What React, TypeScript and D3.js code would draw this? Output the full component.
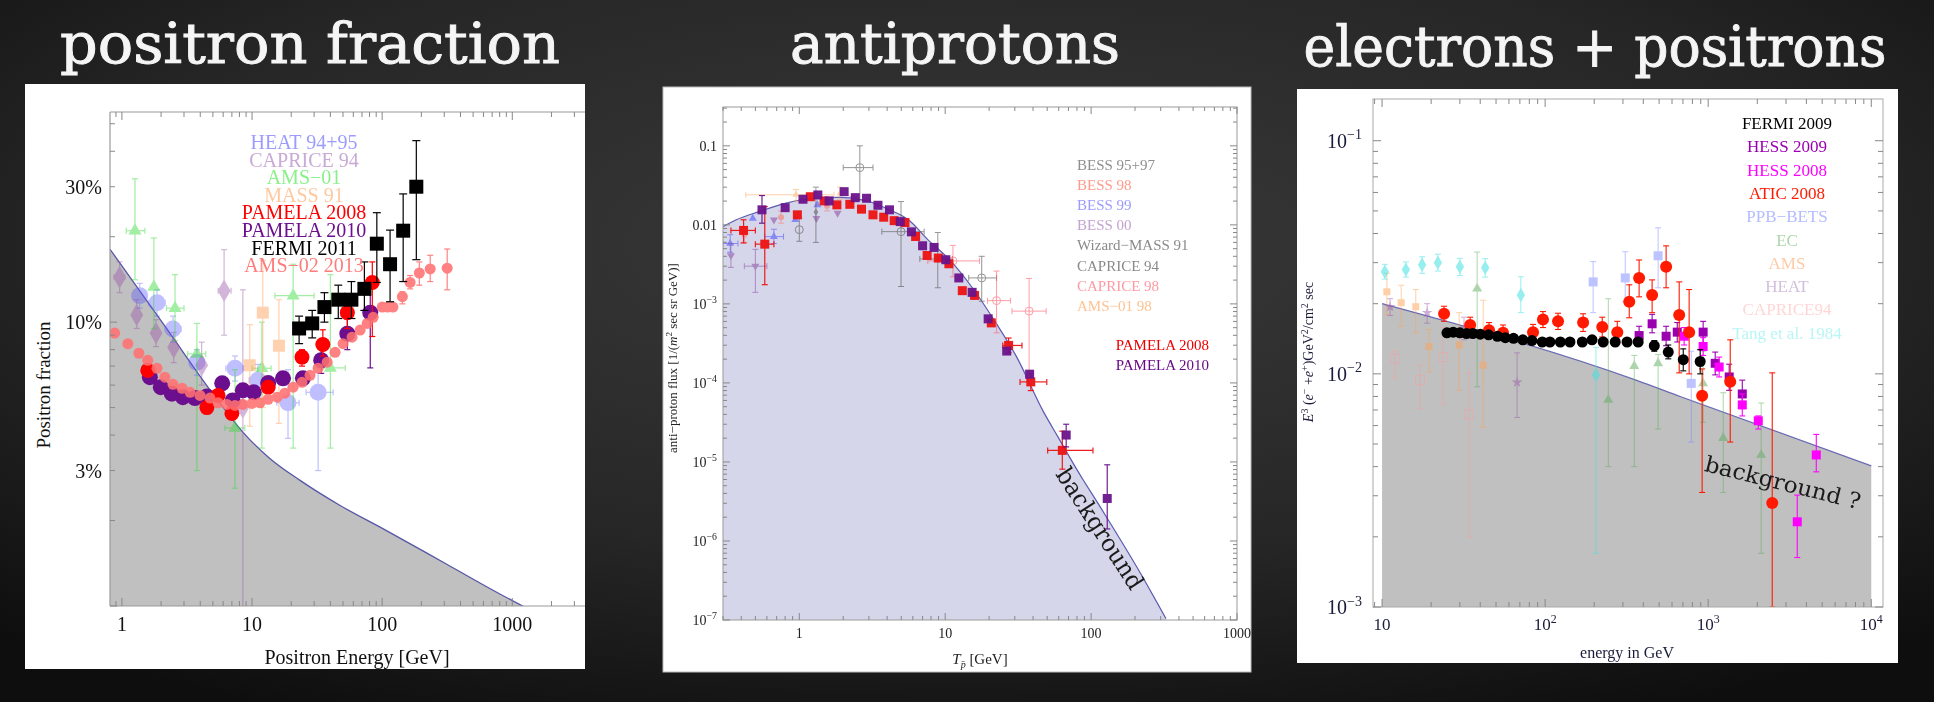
import React from "react";
import * as d3 from "d3";

const W = 1934;
const H = 702;
const SERIF = "'Liberation Serif', 'Times New Roman', serif";
const SLAB = "'DejaVu Serif', serif";

// ---------- positron fraction ----------
// rows: [E, value, lo, hi, Elo, Ehi]
const pfBackground = [[0.808, 0.181], [2.14, 0.0968], [5.67, 0.0518], [8.53, 0.0409], [13.7, 0.0331], [23.4, 0.0277], [47.5, 0.0226], [102, 0.0187], [316, 0.014], [809, 0.011], [1303, 0.0098]];
const pfHeat = [[1.37, 0.124, 0.112, 0.137, 1.2, 1.55], [1.86, 0.117, 0.105, 0.13, 1.6, 2.15], [2.47, 0.0946, 0.085, 0.105, 2.15, 2.85], [3.77, 0.0723, 0.065, 0.08, 3.3, 4.3], [7.4, 0.0688, 0.062, 0.076, 6.3, 8.6], [11.1, 0.0624, 0.055, 0.071, 9.5, 13], [18.9, 0.052, 0.039, 0.068, 15.5, 23], [32.2, 0.0566, 0.03, 0.075, 26, 42]];
const pfCaprice = [[0.96, 0.144, 0.127, 0.163, 0.87, 1.05], [1.3, 0.106, 0.095, 0.12], [1.83, 0.0915, 0.082, 0.102], [2.5, 0.0816, 0.072, 0.092], [4.1, 0.0705, 0.06, 0.085], [6.1, 0.129, 0.09, 0.18, 5.5, 6.9], [8.5, 0.05, 0.0095, 0.13]];
const pfAms01 = [[1.26, 0.21, 0.141, 0.32, 1.08, 1.5], [1.76, 0.133, 0.095, 0.198], [2.56, 0.112, 0.086, 0.147, 2.2, 3.0], [3.77, 0.0773, 0.03, 0.099, 3.2, 4.4], [7.4, 0.0424, 0.026, 0.068, 6.2, 8.8], [11.9, 0.0688, 0.036, 0.1, 10, 14], [20.7, 0.124, 0.036, 0.16, 15, 30], [40, 0.069, 0.036, 0.147, 30, 52]];
const pfMass = [[9.6, 0.0705, 0.043, 0.098], [12.1, 0.108, 0.05, 0.165], [16.1, 0.0826, 0.044, 0.12]];
const pfPamela08 = [[1.58, 0.0676], [4.5, 0.05], [5.48, 0.0552], [7.0, 0.0477], [13.3, 0.059], [24.2, 0.0753, 0.07, 0.08], [35, 0.0834, 0.076, 0.094], [54, 0.108, 0.095, 0.123], [84, 0.138, 0.089, 0.163]];
const pfPamela10 = [[1.64, 0.064], [1.99, 0.059], [2.42, 0.056], [2.94, 0.0544], [3.64, 0.054], [4.5, 0.0547], [5.9, 0.0609], [7.1, 0.053], [8.5, 0.0575], [10.3, 0.0566], [13.3, 0.061], [17.3, 0.0634], [24.6, 0.0634], [34, 0.0734, 0.066, 0.081], [54, 0.091, 0.08, 0.103], [81, 0.108, 0.069, 0.14]];
const pfAms02 = [[0.88, 0.0915], [1.11, 0.084], [1.35, 0.0777], [1.58, 0.0734], [1.86, 0.0688], [2.14, 0.064], [2.47, 0.0604], [2.9, 0.0585], [3.34, 0.0566], [3.98, 0.0552], [4.75, 0.054], [5.48, 0.052], [6.42, 0.0513], [7.4, 0.0509], [8.5, 0.0513], [10, 0.0517], [11.5, 0.052], [13.3, 0.0535], [15.6, 0.0544], [17.9, 0.0562], [20.7, 0.059], [24.2, 0.0614], [27.9, 0.065], [32.2, 0.0688], [37.8, 0.0723], [43.5, 0.0783], [50.1, 0.084], [58.7, 0.0885], [67.7, 0.0938], [76.7, 0.099], [85.3, 0.104], [100, 0.113], [110, 0.113], [121, 0.113], [143, 0.123, 0.116, 0.128], [164, 0.138, 0.131, 0.146], [193, 0.149, 0.135, 0.163], [234, 0.154, 0.139, 0.172], [316, 0.155, 0.13, 0.181]];
const pfFermi = [[23, 0.095, 0.084, 0.105], [29, 0.099, 0.088, 0.11], [36, 0.113, 0.1, 0.127], [46, 0.12, 0.103, 0.135], [58, 0.12, 0.103, 0.139], [73, 0.131, 0.11, 0.163], [91, 0.189, 0.138, 0.243], [115, 0.16, 0.118, 0.211], [145, 0.21, 0.139, 0.283], [183, 0.3, 0.166, 0.436]];
const pfLegend = ["HEAT 94+95", "CAPRICE 94", "AMS\u221201", "MASS 91", "PAMELA 2008", "PAMELA 2010", "FERMI 2011", "AMS\u221202 2013"];
const pfLegendColors = ["#9c9cff", "#c9a9d6", "#8af08a", "#ffc89e", "#ff0000", "#6b0f8f", "#000000", "#ff7c7c"];
const pfYTicks = [0.03, 0.1, 0.3];
const pfYLabels = ["3%", "10%", "30%"];
const pfXTicks = [1, 10, 100, 1000];

// ---------- antiprotons ----------
const apBackground = [[0.3, 0.0095], [0.37, 0.0116], [0.53, 0.0147], [0.81, 0.0188], [1.24, 0.0217], [1.89, 0.0223], [2.89, 0.0202], [4.15, 0.0155], [5.6, 0.0116], [7.6, 0.0065], [10.9, 0.0035], [15.7, 0.00151], [22.6, 5.5e-4], [30.6, 2.2e-4], [46.9, 4.4e-5], [59.7, 2.03e-5], [80.9, 7.7e-6], [116, 2.66e-6], [213, 4.2e-7], [326, 1.04e-7]];
const apBess9597 = [[1.0, 0.0087, 0.0062, 0.0122], [2.6, 0.053, 0.0206, 0.1, 2.0, 3.2], [4.98, 0.0082, 0.00166, 0.0197, 3.68, 7.17], [17.8, 0.00213, 0.00108, 0.004, 14.5, 22.5]];
const apBess98 = [[0.42, 0.0075, 0.006, 0.0095], [0.75, 0.0125, 0.0105, 0.015], [1.55, 0.0175, 0.015, 0.021], [2.3, 0.0195, 0.017, 0.023]];
const apBess99 = [[0.336, 0.0058, 0.0045, 0.0075, 0.3, 0.38], [0.48, 0.0121], [0.67, 0.0071, 0.0058, 0.0088, 0.58, 0.78], [0.94, 0.0116], [1.33, 0.0179]];
const apBess00 = [[0.34, 0.0041, 0.0029, 0.0058], [0.5, 0.003, 0.0014, 0.0049, 0.42, 0.6], [0.67, 0.0116], [1.31, 0.0121], [1.83, 0.0141]];
const apWizard = [[8.9, 0.0037, 0.0016, 0.008, 6.7, 11.2]];
const apCaprice94 = [[1.3, 0.0145, 0.006, 0.03]];
const apCaprice98 = [[11.3, 0.0035, 0.0022, 0.0055, 7.6, 17.2], [22.5, 0.0011, 4.3e-4, 0.0026, 19.5, 28], [37.6, 8.1e-4, 1.4e-4, 0.0021, 28.7, 49.2]];
const apAms0198 = [[0.95, 0.024, 0.02, 0.028, 0.43, 1.73], [1.9, 0.025, 0.021, 0.03]];
const apPamela08 = [[0.415, 0.0085, 0.0059, 0.0116, 0.34, 0.5], [0.58, 0.0057, 0.00175, 0.017, 0.5, 0.67], [0.97, 0.0134], [1.19, 0.0227], [1.48, 0.0201], [1.81, 0.0179], [2.22, 0.0182], [2.67, 0.0158], [3.2, 0.0134], [3.79, 0.0125], [4.47, 0.0113], [5.3, 0.0107], [6.27, 0.00713], [7.52, 0.0041], [8.97, 0.0038], [10.6, 0.00322], [13.1, 0.00147], [15.9, 0.00128], [20.7, 5.75e-4], [27.2, 2.98e-4, 2.4e-4, 3.7e-4, 24.8, 33.6], [38.6, 1.03e-4, 8.0e-5, 1.3e-4, 32.6, 49.7], [63.5, 1.4e-5, 8.1e-6, 2.45e-5, 50.4, 103]];
const apPamela10 = [[0.555, 0.0155, 0.0105, 0.0235], [0.8, 0.0165], [1.06, 0.0211], [1.34, 0.0239], [1.6, 0.0201], [2.03, 0.0263], [2.42, 0.0221], [2.89, 0.0217], [3.46, 0.0177], [4.15, 0.0155], [4.92, 0.011], [5.87, 0.00816], [7.0, 0.00544], [8.39, 0.00518], [10.1, 0.00362], [12.4, 0.00213], [15.3, 0.0014], [19.7, 6.47e-4], [26.4, 2.53e-4], [37.9, 1.29e-4], [67.5, 2.19e-5, 1.55e-5, 3.0e-5], [129, 3.45e-6, 1.42e-6, 9.2e-6]];
const apLegend = ["BESS 95+97", "BESS 98", "BESS 99", "BESS 00", "Wizard\u2212MASS 91", "CAPRICE 94", "CAPRICE 98", "AMS\u221201 98"];
const apLegendColors = ["#8e8e8e", "#ff9a8c", "#9a9aff", "#c3a3cf", "#8a8a8a", "#8a8a8a", "#ff9aa2", "#ffc291"];
const apYTicks = [0.1, 0.01, 1e-3, 1e-4, 1e-5, 1e-6, 1e-7];
const apXTicks = [1, 10, 100, 1000];

// ---------- electrons + positrons ----------
const epBackground = [[10, 0.02], [361, 0.0094], [673, 0.008], [10000, 0.00403]];
const epFermi = [[25, 0.015], [27.3, 0.0151], [30, 0.015], [33, 0.0149], [36, 0.0149], [40, 0.0148], [45, 0.0147], [51, 0.0145], [57, 0.0143], [64, 0.0142], [73, 0.014], [83, 0.0139], [96, 0.0137], [107, 0.0137], [124, 0.0137], [142, 0.0137], [169, 0.0137], [194, 0.014], [227, 0.0137], [269, 0.0137], [318, 0.0137], [372, 0.0137], [467, 0.0132, 0.0125, 0.0139], [569, 0.0124, 0.0116, 0.0133], [703, 0.0115, 0.0103, 0.0128], [893, 0.0113, 0.01, 0.0127]];
const epHess09 = [[377, 0.0146, 0.0133, 0.016], [453, 0.0164, 0.015, 0.018], [552, 0.0145, 0.0132, 0.016], [646, 0.0151, 0.0137, 0.0166], [931, 0.0151, 0.0135, 0.0168], [1104, 0.0111, 0.0099, 0.0124], [1345, 0.0097, 0.0085, 0.011], [1618, 0.0082, 0.0071, 0.0094]];
const epHess08 = [[712, 0.0145, 0.0133, 0.0158], [931, 0.0131, 0.012, 0.0143], [1167, 0.0107, 0.0097, 0.0118], [1618, 0.00736, 0.0066, 0.0082], [2028, 0.00629, 0.0058, 0.0066], [3516, 0.00232, 0.00163, 0.00302], [4600, 0.00449, 0.0038, 0.0055]];
const epAtic = [[24, 0.0181, 0.0168, 0.0195], [34.7, 0.0162, 0.015, 0.0175], [45.3, 0.0154, 0.0143, 0.0166], [55.2, 0.015, 0.0139, 0.0162], [84.3, 0.0151, 0.014, 0.0163], [97, 0.0171, 0.0158, 0.0185], [120, 0.0168, 0.0155, 0.0182], [171, 0.0166, 0.0152, 0.0181], [224, 0.0159, 0.0144, 0.0175], [277, 0.0151, 0.0136, 0.0168], [328, 0.0204, 0.0174, 0.0241], [377, 0.0258, 0.0214, 0.0308], [453, 0.0218, 0.0183, 0.0253], [552, 0.0288, 0.0234, 0.0354], [664, 0.0179, 0.0101, 0.0248], [764, 0.0151, 0.01, 0.023], [918, 0.00805, 0.0031, 0.0105], [1365, 0.00925, 0.0051, 0.014], [2470, 0.00279, 0.001, 0.0101]];
const epPpb = [[197, 0.0248, 0.0183, 0.0303], [310, 0.0258, 0.0204, 0.0334], [493, 0.0321, 0.0234, 0.0423], [787, 0.0091, 0.0051, 0.0125]];
const epEc = [[38.3, 0.0232, 0.0088, 0.0333], [244, 0.00773, 0.004, 0.021], [352, 0.0108, 0.004, 0.012], [493, 0.0111, 0.0058, 0.0121], [931, 0.0091, 0.0062, 0.0125], [1236, 0.0053, 0.0031, 0.0083], [2113, 0.00449, 0.0017, 0.0075]];
const epAms = [[10.7, 0.0225, 0.018, 0.027], [13.1, 0.0202, 0.016, 0.024], [16.1, 0.0194, 0.015, 0.023], [19.4, 0.0131, 0.0102, 0.0155], [29.7, 0.0133, 0.0085, 0.0183], [41.7, 0.0109, 0.0059, 0.0207]];
const epHeat = [[11.2, 0.0194, 0.0178, 0.021], [18.9, 0.0183, 0.0165, 0.02], [31.8, 0.0157, 0.014, 0.0175], [67.3, 0.0092, 0.0065, 0.0123]];
const epCaprice = [[12, 0.0116, 0.0096, 0.0125], [17.1, 0.0094, 0.0071, 0.0109], [23.7, 0.0118, 0.0074, 0.0158], [34.2, 0.0067, 0.002, 0.0101]];
const epTang = [[10.4, 0.0274, 0.0255, 0.0295], [14, 0.028, 0.026, 0.0302], [17.6, 0.0294, 0.027, 0.0318], [22, 0.03, 0.0276, 0.0326], [30, 0.0288, 0.0264, 0.0313], [42.9, 0.0285, 0.026, 0.0312], [71, 0.0218, 0.0183, 0.0261], [205, 0.0099, 0.0017, 0.013]];
const epLegend = ["FERMI 2009", "HESS 2009", "HESS 2008", "ATIC 2008", "PPB\u2212BETS", "EC", "AMS", "HEAT", "CAPRICE94", "Tang et al. 1984"];
const epLegendColors = ["#000000", "#9a00b0", "#ff00ff", "#ff1a00", "#b4bcff", "#acd6ac", "#ffcba6", "#d2bedc", "#ffd6d6", "#b8f6f6"];
const epYTicks = [0.1, 0.01, 0.001];
const epXTicks = [10, 100, 1000, 10000];

type Pt = number[];
type Style = { color: string; shape: string; size: number; opacity?: number; open?: boolean; cap?: number; lw?: number };

const SYMBOLS: Record<string, any> = {
  circle: d3.symbolCircle, square: d3.symbolSquare, triangle: d3.symbolTriangle,
  itriangle: d3.symbolTriangle, diamond: d3.symbolDiamond, star: d3.symbolStar,
};
const AREA: Record<string, number> = { circle: Math.PI / 4, square: 1, triangle: 0.433, itriangle: 0.433, diamond: 0.5, star: 0.3 };

function Marks({ data, st, x, y }: { data: Pt[]; st: Style; x: any; y: any }) {
  const sym = d3.symbol(SYMBOLS[st.shape], st.size * st.size * AREA[st.shape])() as string;
  const cap = st.cap ?? 3;
  return (
    <g opacity={st.opacity ?? 1} stroke={st.color} strokeWidth={st.lw ?? 1.2}>
      {data.map((p, i) => {
        const cx = x(p[0]);
        const cy = y(p[1]);
        return (
          <g key={i}>
            {p.length >= 4 && (
              <g>
                <line x1={cx} x2={cx} y1={y(p[2])} y2={y(p[3])} />
                <line x1={cx - cap} x2={cx + cap} y1={y(p[2])} y2={y(p[2])} />
                <line x1={cx - cap} x2={cx + cap} y1={y(p[3])} y2={y(p[3])} />
              </g>
            )}
            {p.length >= 6 && (
              <g>
                <line x1={x(p[4])} x2={x(p[5])} y1={cy} y2={cy} />
                <line x1={x(p[4])} x2={x(p[4])} y1={cy - cap} y2={cy + cap} />
                <line x1={x(p[5])} x2={x(p[5])} y1={cy - cap} y2={cy + cap} />
              </g>
            )}
            <path
              d={sym}
              transform={`translate(${cx},${cy})${st.shape === "itriangle" ? " rotate(180)" : ""}`}
              fill={st.open ? "none" : st.color}
              stroke={st.open ? st.color : "none"}
            />
          </g>
        );
      })}
    </g>
  );
}

// Mathematica style inward log ticks
function LogTicks({ scale, side, at, major, minor, color }: { scale: any; side: string; at: number; major: number; minor: number; color: string }) {
  const dom = scale.domain();
  const lo = Math.min(dom[0], dom[1]);
  const hi = Math.max(dom[0], dom[1]);
  const ticks: [number, boolean][] = [];
  for (let k = Math.floor(Math.log10(lo)); k <= Math.ceil(Math.log10(hi)); k++) {
    for (let m = 1; m < 10; m++) {
      const v = m * Math.pow(10, k);
      if (v >= lo * 0.999 && v <= hi * 1.001) ticks.push([v, m === 1]);
    }
  }
  const dir = side === "bottom" || side === "right" ? -1 : 1;
  const horiz = side === "bottom" || side === "top";
  return (
    <g stroke={color} strokeWidth={1}>
      {ticks.map(([v, isMajor], i) => {
        const p = scale(v);
        const len = (isMajor ? major : minor) * dir;
        return horiz ? (
          <line key={i} x1={p} x2={p} y1={at} y2={at + len} />
        ) : (
          <line key={i} x1={at} x2={at + len} y1={p} y2={p} />
        );
      })}
    </g>
  );
}

function Pow({ x, y, base, exp, size, anchor }: { x: number; y: number; base: string; exp: string; size: number; anchor: string }) {
  return (
    <text x={x} y={y} fontSize={size} textAnchor={anchor}>
      {base}
      <tspan dy={-size * 0.42} fontSize={size * 0.7}>{exp}</tspan>
    </text>
  );
}

function PositronFraction() {
  const box = { x0: 25, y0: 84, x1: 585, y1: 669 };
  const fr = { l: 110, t: 112, b: 606, r: 585 };
  const x = d3.scaleLog().domain([0.81, 3620]).range([fr.l, fr.r]);
  const y = d3.scaleLog().domain([0.01, 0.55]).range([fr.b, fr.t]);
  const area = d3.area<number[]>().x((d) => x(d[0])).y0(fr.b).y1((d) => y(d[1])).curve(d3.curveMonotoneX);
  const line = d3.line<number[]>().x((d) => x(d[0])).y((d) => y(d[1])).curve(d3.curveMonotoneX);
  return (
    <g>
      <rect x={box.x0} y={box.y0} width={box.x1 - box.x0} height={box.y1 - box.y0} fill="#fff" />
      <defs>
        <clipPath id="clipPF"><rect x={fr.l} y={fr.t} width={fr.r - fr.l} height={fr.b - fr.t} /></clipPath>
      </defs>
      <g clipPath="url(#clipPF)">
        <path d={area(pfBackground) as string} fill="#c0c0c0" />
        <path d={line(pfBackground) as string} fill="none" stroke="#5656a8" strokeWidth={1.3} />
        <Marks data={pfHeat} st={{ color: "#5a5aff", shape: "circle", size: 17, opacity: 0.38 }} x={x} y={y} />
        <Marks data={pfCaprice} st={{ color: "#9a5aaa", shape: "diamond", size: 17, opacity: 0.45 }} x={x} y={y} />
        <Marks data={pfAms01} st={{ color: "#2fd82f", shape: "triangle", size: 13, opacity: 0.45 }} x={x} y={y} />
        <Marks data={pfMass} st={{ color: "#ffa460", shape: "square", size: 12, opacity: 0.5 }} x={x} y={y} />
        <Marks data={pfPamela10} st={{ color: "#6b0f8f", shape: "circle", size: 16 }} x={x} y={y} />
        <Marks data={pfPamela08} st={{ color: "#ff0000", shape: "circle", size: 15 }} x={x} y={y} />
        <Marks data={pfAms02} st={{ color: "#ff7070", shape: "circle", size: 11, opacity: 0.88 }} x={x} y={y} />
        <Marks data={pfFermi} st={{ color: "#000000", shape: "square", size: 14, cap: 4 }} x={x} y={y} />
      </g>
      <g stroke="#9a9a9a" strokeWidth={1.2}>
        <line x1={fr.l} x2={fr.r} y1={fr.t} y2={fr.t} />
        <line x1={fr.l} x2={fr.r} y1={fr.b} y2={fr.b} />
        <line x1={fr.l} x2={fr.l} y1={fr.t} y2={fr.b} />
      </g>
      <LogTicks scale={x} side="bottom" at={fr.b} major={8} minor={5} color="#888" />
      <LogTicks scale={x} side="top" at={fr.t} major={8} minor={5} color="#888" />
      <LogTicks scale={y} side="left" at={fr.l} major={7} minor={5} color="#888" />
      <g fontFamily={SERIF} fill="#111">
        {pfYTicks.map((t, i) => (
          <text key={i} x={102} y={y(t) + 7} fontSize={20} textAnchor="end">{pfYLabels[i]}</text>
        ))}
        {pfXTicks.map((t) => (
          <text key={t} x={x(t)} y={631} fontSize={20} textAnchor="middle">{t}</text>
        ))}
        <text x={357} y={664} fontSize={20} textAnchor="middle">Positron Energy [GeV]</text>
        <text transform="translate(50,385) rotate(-90)" fontSize={19} textAnchor="middle">Positron fraction</text>
        {pfLegend.map((s, i) => (
          <text key={s} x={304} y={149 + i * 17.6} fontSize={20} textAnchor="middle" fill={pfLegendColors[i]}>{s}</text>
        ))}
      </g>
    </g>
  );
}

function Antiprotons() {
  const box = { x0: 663, y0: 87, x1: 1251, y1: 672 };
  const fr = { l: 723, t: 107, b: 620, r: 1237 };
  const x = d3.scaleLog().domain([0.3, 1000]).range([fr.l, fr.r]);
  const y = d3.scaleLog().domain([1e-7, 0.31]).range([fr.b, fr.t]);
  const area = d3.area<number[]>().x((d) => x(d[0])).y0(fr.b).y1((d) => y(d[1])).curve(d3.curveMonotoneX);
  const line = d3.line<number[]>().x((d) => x(d[0])).y((d) => y(d[1])).curve(d3.curveMonotoneX);
  return (
    <g>
      <rect x={box.x0} y={box.y0} width={box.x1 - box.x0} height={box.y1 - box.y0} fill="#fff" stroke="#bbb" />
      <defs>
        <clipPath id="clipAP"><rect x={fr.l} y={fr.t} width={fr.r - fr.l} height={fr.b - fr.t} /></clipPath>
      </defs>
      <g clipPath="url(#clipAP)">
        <path d={area(apBackground) as string} fill="#d5d6ea" />
        <path d={line(apBackground) as string} fill="none" stroke="#5a5ab0" strokeWidth={1.2} />
        <Marks data={apAms0198} st={{ color: "#ffa050", shape: "triangle", size: 7, opacity: 0.5, lw: 1 }} x={x} y={y} />
        <Marks data={apBess98} st={{ color: "#ff6a5a", shape: "circle", size: 6, opacity: 0.5, lw: 1 }} x={x} y={y} />
        <Marks data={apBess99} st={{ color: "#4a4aff", shape: "triangle", size: 8, opacity: 0.55, lw: 1 }} x={x} y={y} />
        <Marks data={apBess00} st={{ color: "#8a4aa0", shape: "itriangle", size: 8, opacity: 0.55, lw: 1 }} x={x} y={y} />
        <Marks data={apBess9597} st={{ color: "#666", shape: "circle", size: 8, opacity: 0.7, open: true, lw: 1 }} x={x} y={y} />
        <Marks data={apWizard} st={{ color: "#555", shape: "square", size: 5, opacity: 0.6, lw: 1 }} x={x} y={y} />
        <Marks data={apCaprice94} st={{ color: "#555", shape: "diamond", size: 6, opacity: 0.6, lw: 1 }} x={x} y={y} />
        <Marks data={apCaprice98} st={{ color: "#ff5a6a", shape: "circle", size: 8, opacity: 0.6, open: true, lw: 1 }} x={x} y={y} />
        <Marks data={apPamela08} st={{ color: "#ee1111", shape: "square", size: 9, opacity: 0.95 }} x={x} y={y} />
        <Marks data={apPamela10} st={{ color: "#6a148c", shape: "square", size: 9, opacity: 0.95 }} x={x} y={y} />
        <text transform="translate(1093,533) rotate(57)" fontFamily={SLAB} fontSize={24} textAnchor="middle" fill="#1a1a1a" textLength={140} lengthAdjust="spacingAndGlyphs">background</text>
      </g>
      <rect x={fr.l} y={fr.t} width={fr.r - fr.l} height={fr.b - fr.t} fill="none" stroke="#9a9a9a" />
      <LogTicks scale={x} side="bottom" at={fr.b} major={7} minor={4} color="#888" />
      <LogTicks scale={x} side="top" at={fr.t} major={7} minor={4} color="#888" />
      <LogTicks scale={y} side="left" at={fr.l} major={7} minor={4} color="#888" />
      <LogTicks scale={y} side="right" at={fr.r} major={7} minor={4} color="#888" />
      <g fontFamily={SERIF} fill="#222">
        {apYTicks.map((t) =>
          t >= 0.01 ? (
            <text key={t} x={717} y={y(t) + 5} fontSize={14} textAnchor="end">{t}</text>
          ) : (
            <Pow key={t} x={717} y={y(t) + 5} base="10" exp={"\u2212" + Math.round(-Math.log10(t))} size={14} anchor="end" />
          )
        )}
        {apXTicks.map((t) => (
          <text key={t} x={x(t)} y={638} fontSize={14} textAnchor="middle">{t}</text>
        ))}
        <text x={980} y={664} fontSize={15} textAnchor="middle">
          <tspan fontStyle="italic">T</tspan>
          <tspan dy={4} fontSize={10} fontStyle="italic">p̄</tspan>
          <tspan dy={-4}> [GeV]</tspan>
        </text>
        <text transform="translate(677,358) rotate(-90)" fontSize={13} textAnchor="middle">
          anti{"\u2212"}proton flux [1/(<tspan fontStyle="italic">m</tspan><tspan dy={-5} fontSize={9}>2</tspan><tspan dy={5}> sec sr GeV)]</tspan>
        </text>
        {apLegend.map((s, i) => (
          <text key={s} x={1077} y={170 + i * 20.1} fontSize={15} fill={apLegendColors[i]}>{s}</text>
        ))}
        <text x={1209} y={350} fontSize={15} textAnchor="end" fill="#ee0000">PAMELA 2008</text>
        <text x={1209} y={370} fontSize={15} textAnchor="end" fill="#6a0a8a">PAMELA 2010</text>
      </g>
    </g>
  );
}

function ElectronsPositrons() {
  const box = { x0: 1297, y0: 89, x1: 1898, y1: 663 };
  const fr = { l: 1373, t: 99, b: 607, r: 1883 };
  const x = d3.scaleLog().domain([8.8, 11800]).range([fr.l, fr.r]);
  const y = d3.scaleLog().domain([0.001, 0.151]).range([fr.b, fr.t]);
  const area = d3.area<number[]>().x((d) => x(d[0])).y0(fr.b).y1((d) => y(d[1])).curve(d3.curveMonotoneX);
  const line = d3.line<number[]>().x((d) => x(d[0])).y((d) => y(d[1])).curve(d3.curveMonotoneX);
  return (
    <g>
      <rect x={box.x0} y={box.y0} width={box.x1 - box.x0} height={box.y1 - box.y0} fill="#fff" />
      <defs>
        <clipPath id="clipEP"><rect x={fr.l} y={fr.t} width={fr.r - fr.l} height={fr.b - fr.t} /></clipPath>
      </defs>
      <g clipPath="url(#clipEP)">
        <path d={area(epBackground) as string} fill="#c0c0c0" />
        <path d={line(epBackground) as string} fill="none" stroke="#6a6ab4" strokeWidth={1.2} />
        <Marks data={epCaprice} st={{ color: "#ff9a9a", shape: "square", size: 9, opacity: 0.45, open: true, lw: 1 }} x={x} y={y} />
        <Marks data={epAms} st={{ color: "#ffa050", shape: "square", size: 7, opacity: 0.5, lw: 1 }} x={x} y={y} />
        <Marks data={epHeat} st={{ color: "#9a5aaa", shape: "star", size: 11, opacity: 0.5, lw: 1 }} x={x} y={y} />
        <Marks data={epEc} st={{ color: "#5aaa5a", shape: "triangle", size: 10, opacity: 0.5, lw: 1 }} x={x} y={y} />
        <Marks data={epTang} st={{ color: "#40e0e0", shape: "diamond", size: 11, opacity: 0.55, lw: 1 }} x={x} y={y} />
        <Marks data={epPpb} st={{ color: "#7a86ff", shape: "square", size: 9, opacity: 0.5, lw: 1 }} x={x} y={y} />
        <Marks data={epHess09} st={{ color: "#9a00b0", shape: "square", size: 9, lw: 1.1 }} x={x} y={y} />
        <Marks data={epHess08} st={{ color: "#ff00ff", shape: "square", size: 9, lw: 1.1 }} x={x} y={y} />
        <Marks data={epAtic} st={{ color: "#ff1a00", shape: "circle", size: 12, lw: 1.1 }} x={x} y={y} />
        <Marks data={epFermi} st={{ color: "#000000", shape: "circle", size: 11, lw: 1.1 }} x={x} y={y} />
        <text transform="translate(1781,490) rotate(14)" fontFamily={SLAB} fontSize={22} textAnchor="middle" fill="#1a1a1a" textLength={160} lengthAdjust="spacingAndGlyphs">background ?</text>
      </g>
      <rect x={fr.l} y={fr.t} width={fr.r - fr.l} height={fr.b - fr.t} fill="none" stroke="#aaa" />
      <LogTicks scale={x} side="bottom" at={fr.b} major={8} minor={5} color="#888" />
      <LogTicks scale={x} side="top" at={fr.t} major={8} minor={5} color="#888" />
      <LogTicks scale={y} side="left" at={fr.l} major={8} minor={5} color="#888" />
      <LogTicks scale={y} side="right" at={fr.r} major={8} minor={5} color="#888" />
      <g fontFamily={SERIF} fill="#1a1a3a">
        {epYTicks.map((t) => (
          <Pow key={t} x={1362} y={y(t) + 7} base="10" exp={"\u2212" + Math.round(-Math.log10(t))} size={20} anchor="end" />
        ))}
        {epXTicks.map((t) =>
          t === 10 ? (
            <text key={t} x={x(t)} y={630} fontSize={17} textAnchor="middle">10</text>
          ) : (
            <Pow key={t} x={x(t)} y={630} base="10" exp={String(Math.round(Math.log10(t)))} size={17} anchor="middle" />
          )
        )}
        <text x={1627} y={658} fontSize={16} textAnchor="middle">energy in GeV</text>
        <text transform="translate(1313,352) rotate(-90)" fontSize={14} textAnchor="middle">
          <tspan fontStyle="italic">E</tspan>
          <tspan dy={-5} fontSize={10}>3</tspan>
          <tspan dy={5}> (</tspan>
          <tspan fontStyle="italic">e</tspan>
          <tspan dy={-5} fontSize={10}>{"\u2212"}</tspan>
          <tspan dy={5}> +</tspan>
          <tspan fontStyle="italic">e</tspan>
          <tspan dy={-5} fontSize={10}>+</tspan>
          <tspan dy={5}>)GeV</tspan>
          <tspan dy={-5} fontSize={10}>2</tspan>
          <tspan dy={5}>/cm</tspan>
          <tspan dy={-5} fontSize={10}>2</tspan>
          <tspan dy={5}> sec</tspan>
        </text>
        {epLegend.map((s, i) => (
          <text key={s} x={1787} y={129 + i * 23.3} fontSize={17} textAnchor="middle" fill={epLegendColors[i]}>{s}</text>
        ))}
      </g>
    </g>
  );
}

export default function App() {
  return (
    <svg width={W} height={H} viewBox={`0 0 ${W} ${H}`} style={{ position: "absolute", left: 0, top: 0, display: "block" }}>
      <defs>
        <radialGradient id="bg" cx="50%" cy="35%" r="75%">
          <stop offset="0%" stopColor="#3a3a3a" />
          <stop offset="60%" stopColor="#262626" />
          <stop offset="100%" stopColor="#0e0e0e" />
        </radialGradient>
      </defs>
      <rect width={W} height={H} fill="url(#bg)" />
      <g fontFamily={SLAB} fill="#f5f5f5" stroke="#f5f5f5" strokeWidth={0.9}>
        <text x={310} y={63} fontSize={56} textAnchor="middle" textLength={500} lengthAdjust="spacingAndGlyphs">positron fraction</text>
        <text x={955} y={63} fontSize={56} textAnchor="middle" textLength={330} lengthAdjust="spacingAndGlyphs">antiprotons</text>
        <text x={1595} y={66} fontSize={56} textAnchor="middle" textLength={583} lengthAdjust="spacingAndGlyphs">electrons + positrons</text>
      </g>
      <PositronFraction />
      <Antiprotons />
      <ElectronsPositrons />
    </svg>
  );
}
